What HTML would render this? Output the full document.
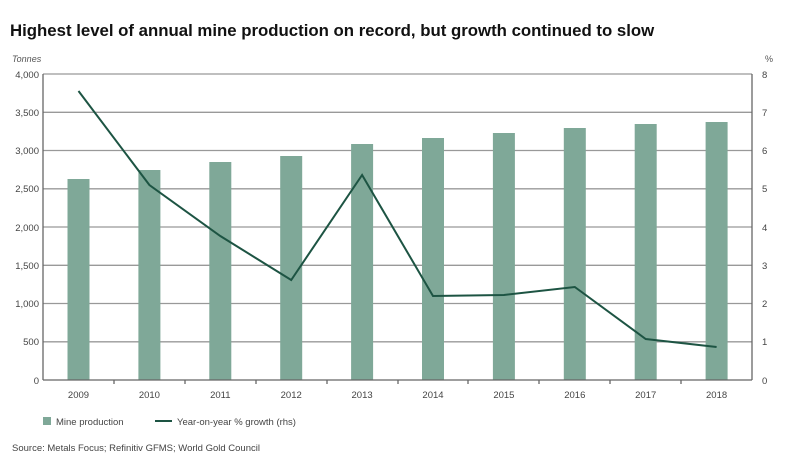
<!DOCTYPE html>
<html><head><style>body{margin:0;background:#fff}svg{display:block}text{font-family:"Liberation Sans",sans-serif}</style></head><body>
<svg width="797" height="458" viewBox="0 0 797 458">
<text x="10" y="36" font-size="16.8" font-weight="bold" fill="#111">Highest level of annual mine production on record, but growth continued to slow</text>
<text x="12" y="62" font-size="9" font-style="italic" fill="#555">Tonnes</text>
<text x="765" y="62" font-size="9" fill="#555">%</text>
<g stroke="#999" stroke-width="1.3">
<line x1="43" x2="752" y1="74" y2="74"/><line x1="43" x2="752" y1="112.3" y2="112.3"/><line x1="43" x2="752" y1="150.5" y2="150.5"/><line x1="43" x2="752" y1="188.8" y2="188.8"/><line x1="43" x2="752" y1="227" y2="227"/><line x1="43" x2="752" y1="265.3" y2="265.3"/><line x1="43" x2="752" y1="303.5" y2="303.5"/><line x1="43" x2="752" y1="341.8" y2="341.8"/>
</g>
<g fill="#7fa898">
<rect x="67.5" y="179" width="22" height="201"/><rect x="138.4" y="170" width="22" height="210"/><rect x="209.3" y="162" width="22" height="218"/><rect x="280.2" y="156" width="22" height="224"/><rect x="351.1" y="144" width="22" height="236"/><rect x="422" y="138" width="22" height="242"/><rect x="492.9" y="133" width="22" height="247"/><rect x="563.8" y="128" width="22" height="252"/><rect x="634.7" y="124" width="22" height="256"/><rect x="705.6" y="122" width="22" height="258"/>
</g>
<g stroke="#666" stroke-width="1.3">
<line x1="43" y1="74" x2="43" y2="380"/><line x1="752" y1="74" x2="752" y2="380"/><line x1="43" y1="380" x2="752" y2="380"/>
<line x1="114" y1="380" x2="114" y2="384"/><line x1="185" y1="380" x2="185" y2="384"/><line x1="256" y1="380" x2="256" y2="384"/><line x1="327" y1="380" x2="327" y2="384"/><line x1="398" y1="380" x2="398" y2="384"/><line x1="468" y1="380" x2="468" y2="384"/><line x1="539" y1="380" x2="539" y2="384"/><line x1="610" y1="380" x2="610" y2="384"/><line x1="681" y1="380" x2="681" y2="384"/>
</g>
<polyline fill="none" stroke="#1d5443" stroke-width="2" points="78.5,91 149.4,185 220.3,236 291.2,280 362.1,175 433,296 503.9,295 574.8,287 645.7,339 716.6,347"/>
<g font-size="9.5" fill="#444" text-anchor="end">
<text x="39" y="78">4,000</text><text x="39" y="116">3,500</text><text x="39" y="154">3,000</text><text x="39" y="192">2,500</text><text x="39" y="231">2,000</text><text x="39" y="269">1,500</text><text x="39" y="307">1,000</text><text x="39" y="345">500</text><text x="39" y="384">0</text>
</g>
<g font-size="9.5" fill="#444">
<text x="762" y="78">8</text><text x="762" y="116">7</text><text x="762" y="154">6</text><text x="762" y="192">5</text><text x="762" y="231">4</text><text x="762" y="269">3</text><text x="762" y="307">2</text><text x="762" y="345">1</text><text x="762" y="384">0</text>
</g>
<g font-size="9.5" fill="#444" text-anchor="middle">
<text x="78.5" y="398">2009</text><text x="149.4" y="398">2010</text><text x="220.3" y="398">2011</text><text x="291.2" y="398">2012</text><text x="362.1" y="398">2013</text><text x="433" y="398">2014</text><text x="503.9" y="398">2015</text><text x="574.8" y="398">2016</text><text x="645.7" y="398">2017</text><text x="716.6" y="398">2018</text>
</g>
<rect x="43" y="417" width="8" height="8" fill="#7fa898"/>
<text x="56" y="425" font-size="9.5" fill="#444">Mine production</text>
<line x1="155" y1="421" x2="172" y2="421" stroke="#1d5443" stroke-width="2"/>
<text x="177" y="425" font-size="9.5" fill="#444">Year-on-year % growth (rhs)</text>
<text x="12" y="451" font-size="9.5" fill="#444">Source: Metals Focus; Refinitiv GFMS; World Gold Council</text>
</svg>
</body></html>
